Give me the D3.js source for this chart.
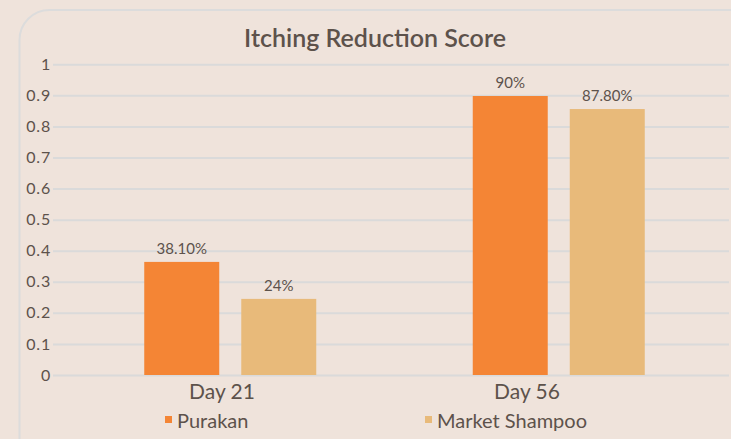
<!DOCTYPE html>
<html>
<head>
<meta charset="utf-8">
<script src="https://cdn.jsdelivr.net/npm/d3@7"></script>
<style>
  body { margin: 0; background: #efe3db; }
  #svg-container { width: 731px; height: 439px; }
  text { font-family: "Lato", "Open Sans", sans-serif; fill: #5d524b; }
</style>
</head>
<body>
<div id="svg-container"></div>
<script>
////////////////////////////  Data  ////////////////////////////////
const categories = ["Day 21", "Day 56"];
const seriesNames = ["Purakan", "Market Shampoo"];
const purakan = [0.364, 0.898];
const marketShampoo = [0.245, 0.856];
const purakanLabels = ["38.10%", "90%"];
const marketLabels = ["24%", "87.80%"];
const yTicks = [0, 0.1, 0.2, 0.3, 0.4, 0.5, 0.6, 0.7, 0.8, 0.9, 1];
const colors = ["#f48535", "#e8ba7a"];

////////////////////////////  Init  ////////////////////////////////
const width = 731;
const height = 439;
const margin = { top: 64, right: 2, bottom: 64, left: 53 };

const svg = d3
  .select("#svg-container")
  .append("svg")
  .attr("width", width)
  .attr("height", height);

// card
svg
  .append("rect")
  .attr("x", 19.5)
  .attr("y", 10)
  .attr("width", 745)
  .attr("height", 460)
  .attr("rx", 30)
  .attr("fill", "none")
  .attr("stroke", "#dcdcdc")
  .attr("stroke-width", 2);

// title
svg
  .append("text")
  .attr("x", 375)
  .attr("y", 47)
  .attr("text-anchor", "middle")
  .style("font-size", "25px")
  .style("font-weight", 600)
  .text("Itching Reduction Score");

// scale
const yScale = d3
  .scaleLinear()
  .domain([0, 1])
  .range([375, 64.3]);

const x0 = d3
  .scaleBand()
  .domain(categories)
  .range([66, 723]);

const x1 = d3
  .scaleBand()
  .domain(seriesNames)
  .range([x0.bandwidth() / 2 - 86, x0.bandwidth() / 2 + 86])
  .paddingInner(0.227);

// axis labels sit a bit left of group centres in the original
const xLabel = d3.scaleBand().domain(categories).range([69.5, 679.5]);

// grid
const yAxis = d3
  .axisLeft(yScale)
  .tickValues(yTicks)
  .tickSize(-(729 - margin.left))
  .tickPadding(2)
  .tickFormat((d) => d3.format("")(d));

svg
  .append("g")
  .attr("class", "y-axis")
  .attr("transform", `translate(${margin.left},0)`)
  .call(yAxis)
  .call((g) => g.select(".domain").remove())
  .call((g) =>
    g
      .selectAll(".tick line")
      .attr("stroke", "#dadada")
      .attr("stroke-width", 2)
  )
  .call((g) =>
    g
      .selectAll(".tick text")
      .attr("fill", "#5d524b")
      .style("font-size", "16px")
      .style("letter-spacing", "0.8px")
      .style("font-family", "Lato, sans-serif")
  );

// bars
const rows = categories.map((c, i) => ({
  cat: c,
  values: [
    { name: seriesNames[0], v: purakan[i], label: purakanLabels[i] },
    { name: seriesNames[1], v: marketShampoo[i], label: marketLabels[i] },
  ],
}));

const groups = svg
  .selectAll(".group")
  .data(rows)
  .enter()
  .append("g")
  .attr("class", "group")
  .attr("transform", (d) => `translate(${x0(d.cat)},0)`);

groups
  .selectAll("rect")
  .data((d) => d.values)
  .enter()
  .append("rect")
  .attr("x", (d) => x1(d.name))
  .attr("y", (d) => yScale(d.v))
  .attr("width", x1.bandwidth())
  .attr("height", (d) => yScale(0) - yScale(d.v))
  .attr("fill", (d, i) => colors[i]);

groups
  .selectAll(".bar-label")
  .data((d) => d.values)
  .enter()
  .append("text")
  .attr("class", "bar-label")
  .attr("x", (d) => x1(d.name) + x1.bandwidth() / 2)
  .attr("y", (d) => yScale(d.v) - 8)
  .attr("text-anchor", "middle")
  .style("font-size", "15px")
  .text((d) => d.label);

// x axis labels
const xAxis = d3.axisBottom(xLabel).tickSize(0).tickPadding(9);
svg
  .append("g")
  .attr("class", "x-axis")
  .attr("transform", `translate(0,375)`)
  .call(xAxis)
  .call((g) => g.select(".domain").remove())
  .call((g) =>
    g
      .selectAll(".tick text")
      .attr("fill", "#5d524b")
      .style("font-size", "21px")
      .style("font-family", "Lato, sans-serif")
  );

// legend
const legendX = d3.scaleOrdinal().domain(seriesNames).range([165, 425]);
const legend = svg
  .selectAll(".legend")
  .data(seriesNames)
  .enter()
  .append("g")
  .attr("class", "legend")
  .attr("transform", (d) => `translate(${legendX(d)},416)`);

legend
  .append("rect")
  .attr("width", 7)
  .attr("height", 7)
  .attr("fill", (d, i) => colors[i]);

legend
  .append("text")
  .attr("x", 12)
  .attr("y", 12)
  .style("font-size", "20px")
  .text((d) => d);
</script>
</body>
</html>
